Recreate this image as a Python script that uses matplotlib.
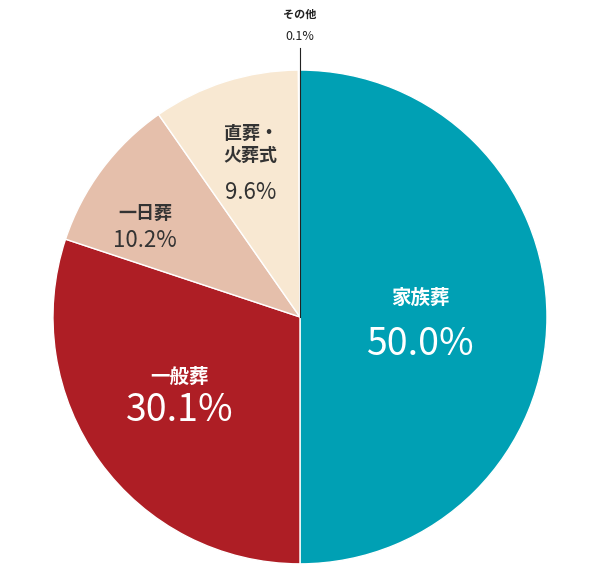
import matplotlib
matplotlib.use("Agg")
import matplotlib.pyplot as plt

categories = ["家族葬", "一般葬", "一日葬", "直葬・\n火葬式", "その他"]
values = [50.0, 30.1, 10.2, 9.6, 0.1]
colors = ["#00A0B4", "#AE1E25", "#E5BFAB", "#F8E8D2", "#F8E8D2"]

plt.rcParams['font.family'] = ['Noto Sans CJK JP', 'DejaVu Sans']
fig = plt.figure(figsize=(6, 5.65), dpi=100)
ax = fig.add_axes([0.5 - 0.4117, 0.439 - 0.437, 0.8233, 0.874])
ax.pie(values, colors=colors, startangle=90, counterclock=False,
       wedgeprops=dict(edgecolor="white", linewidth=1))
ax.set_xlim(-1, 1); ax.set_ylim(-1, 1)
ax.set_aspect('auto')
ax.axis('off')

dark = "#333333"
def lab(x, y, t, s, c, w="bold"):
    ax.text(x, y, t, fontsize=s, color=c, ha='center', va='center', fontweight=w, clip_on=False)

lab(0.486, 0.075, categories[0], 14, "white")
lab(0.486, -0.11, f"{values[0]:.1f}%", 27, "white", "normal")
lab(-0.486, -0.245, categories[1], 14, "white")
lab(-0.486, -0.38, f"{values[1]:.1f}%", 27, "white", "normal")
lab(-0.628, 0.421, categories[2], 13, dark)
lab(-0.628, 0.31, f"{values[2]:.1f}%", 16, dark, "normal")
lab(-0.2, 0.70, categories[3], 13, dark)
lab(-0.2, 0.505, f"{values[3]:.1f}%", 16, dark, "normal")
lab(0, 1.225, categories[4], 8, "#222222")
lab(0, 1.135, f"{values[4]:.1f}%", 9, "#222222", "normal")
ax.plot([0, 0], [0.0, 1.09], color="#222222", lw=0.8, clip_on=False)

fig.savefig("out.png", dpi=100)
